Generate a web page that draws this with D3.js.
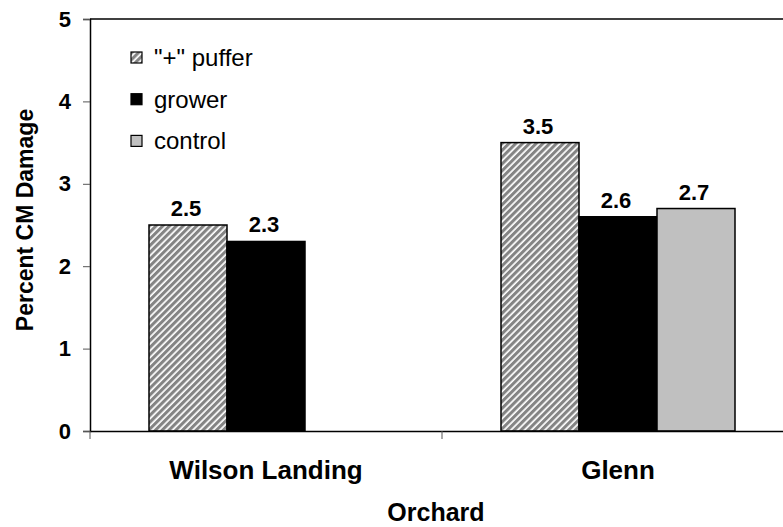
<!DOCTYPE html>
<html>
<head>
<meta charset="utf-8">
<script src="https://cdn.jsdelivr.net/npm/d3@7/dist/d3.min.js"></script>
<style>
  html, body { margin: 0; padding: 0; background: #fff; }
  svg { display: block; font-family: "Liberation Sans", Arial, sans-serif; }
</style>
</head>
<body>
<svg id="chart" width="783" height="527"></svg>
<script>
// Orchard categories and treatment series
const orchards = ["Wilson Landing", "Glenn"];
const treatments = ["\"+\" puffer", "grower", "control"];
// Percent CM damage per treatment, one entry per orchard (null = not sampled)
const pufferValues  = [2.5, 3.5];
const growerValues  = [2.3, 2.6];
const controlValues = [null, 2.7];
const yTicks = [0, 1, 2, 3, 4, 5];

const seriesValues = [pufferValues, growerValues, controlValues];
const rows = orchards.map((o, i) => ({
  orchard: o,
  bars: treatments.map((t, k) => ({ treatment: t, value: seriesValues[k][i] }))
}));

const svg = d3.select("#chart");
const plot = { left: 90, right: 794, top: 19, bottom: 431 };

// Pattern for the "+" puffer bars: grey diagonal stripes on white
const defs = svg.append("defs");
const pat = defs.append("pattern")
  .attr("id", "hatch")
  .attr("patternUnits", "userSpaceOnUse")
  .attr("width", 4.8).attr("height", 4.8)
  .attr("patternTransform", "rotate(45)");
pat.append("rect").attr("width", 4.8).attr("height", 4.8).attr("fill", "#ffffff");
pat.append("rect").attr("width", 3.1).attr("height", 4.8).attr("fill", "#848484");

const fills = { "\"+\" puffer": "url(#hatch)", "grower": "#000000", "control": "#c0c0c0" };

// Scales: gap between groups is 1.5 times a bar width
const gapRatio = 118 / 352;
const x0 = d3.scaleBand().domain(orchards)
  .range([plot.left, plot.right])
  .paddingInner(gapRatio).paddingOuter(gapRatio / 2);
const x1 = d3.scaleBand().domain(treatments).range([0, x0.bandwidth()]);
const y = d3.scaleLinear().domain([0, 5]).range([plot.bottom, plot.top]);

// Plot frame (top edge visible, right edge falls outside the canvas)
svg.append("line")
  .attr("x1", plot.left).attr("x2", plot.right)
  .attr("y1", plot.top).attr("y2", plot.top)
  .attr("stroke", "#000").attr("stroke-width", 1.5);

// Bars
const groups = svg.append("g").selectAll("g").data(rows).join("g")
  .attr("transform", d => `translate(${x0(d.orchard)},0)`);

groups.selectAll("rect").data(d => d.bars.filter(b => b.value != null)).join("rect")
  .attr("x", d => x1(d.treatment))
  .attr("y", d => y(d.value))
  .attr("width", x1.bandwidth())
  .attr("height", d => y(0) - y(d.value))
  .attr("fill", d => fills[d.treatment])
  .attr("stroke", "#000").attr("stroke-width", 1.5);

// Value labels
groups.selectAll("text.val").data(d => d.bars.filter(b => b.value != null)).join("text")
  .attr("class", "val")
  .attr("x", d => x1(d.treatment) + x1.bandwidth() / 2 - 2)
  .attr("y", d => y(d.value) - 9)
  .attr("text-anchor", "middle")
  .attr("font-size", 22).attr("font-weight", "bold")
  .text(d => d.value.toFixed(1));

// Y axis
const yAxis = svg.append("g")
  .attr("transform", `translate(${plot.left},0)`)
  .call(d3.axisLeft(y).tickValues(yTicks).tickSize(7).tickPadding(12).tickFormat(d3.format("d")));
yAxis.select(".domain").attr("stroke", "#000").attr("stroke-width", 1.5);
yAxis.selectAll(".tick line").attr("stroke", "#555").attr("stroke-width", 1);
yAxis.selectAll(".tick text")
  .attr("font-size", 22).attr("font-weight", "bold").attr("fill", "#000")
  .attr("font-family", "Liberation Sans, Arial, sans-serif");

// X axis with ticks at the group boundaries
const xAxis = svg.append("g")
  .attr("transform", `translate(0,${plot.bottom})`)
  .call(d3.axisBottom(x0).tickSize(0).tickPadding(30));
xAxis.select(".domain").attr("stroke", "#000").attr("stroke-width", 1.5);
xAxis.selectAll(".tick text")
  .attr("font-size", 26).attr("font-weight", "bold").attr("fill", "#000")
  .attr("font-family", "Liberation Sans, Arial, sans-serif");
const boundaries = [plot.left, (x0(orchards[0]) + x0.bandwidth() + x0(orchards[1])) / 2, plot.right];
xAxis.selectAll("line.bound").data(boundaries).join("line")
  .attr("class", "bound")
  .attr("x1", d => d).attr("x2", d => d)
  .attr("y1", 0).attr("y2", 8)
  .attr("stroke", "#555").attr("stroke-width", 1);

// Axis titles
svg.append("text")
  .attr("x", (plot.left + plot.right) / 2 - 6).attr("y", 521)
  .attr("text-anchor", "middle")
  .attr("font-size", 25).attr("font-weight", "bold")
  .text("Orchard");
svg.append("text")
  .attr("transform", "translate(33,220) rotate(-90)")
  .attr("text-anchor", "middle")
  .attr("font-size", 23).attr("font-weight", "bold")
  .text("Percent CM Damage");

// Legend
const legend = svg.append("g").selectAll("g").data(treatments).join("g")
  .attr("transform", (d, i) => `translate(131,${58 + i * 41.7})`);
legend.append("rect")
  .attr("x", 0).attr("y", -6).attr("width", 11).attr("height", 11)
  .attr("fill", d => fills[d]).attr("stroke", "#000").attr("stroke-width", 1.2);
legend.append("text")
  .attr("x", 23).attr("y", 8)
  .attr("font-size", 24)
  .text(d => d);
</script>
</body>
</html>
